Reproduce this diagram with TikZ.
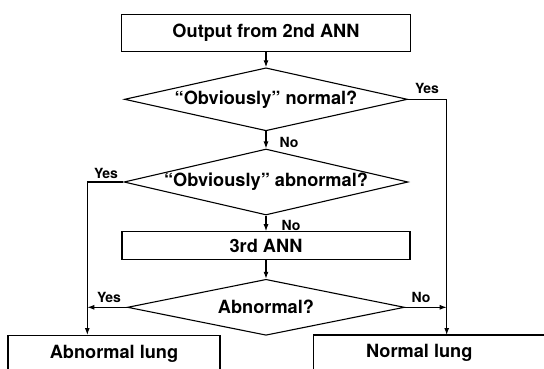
\documentclass[tikz,border=0pt]{standalone}
\usepackage{fontspec}
\setmainfont{TeX Gyre Heros}
\usetikzlibrary{positioning}
\usetikzlibrary{shapes.geometric}
\usetikzlibrary{arrows.meta}

\begin{document}
\begin{tikzpicture}[x=1pt, y=-1pt,
    box text/.style={
        rectangle, inner sep=0pt,
        font=\fontsize{18.2}{20}\selectfont\bfseries
    },
    box style/.style={box text, draw, line width=1.1pt},
    decision style/.style={
        diamond, draw, line width=1.1pt,
        inner sep=0pt, aspect=4.4,
        font=\fontsize{18.2}{20}\selectfont\bfseries
    },
    answer/.style={inner sep=0pt, font=\fontsize{14}{16}\selectfont\bfseries},
    edge/.style={line width=1.1pt, -{Latex[length=7pt,width=5pt]}},
    line/.style={line width=1.1pt}
]
    \useasboundingbox (0,0) rectangle (544,368);

    \node[box style, minimum width=289pt, minimum height=37pt] (out) at (266,32.8) {Output from 2nd ANN};
    \node[decision style, minimum width=283pt, minimum height=63pt] (dnorm) at (266,99.3) {“Obviously” normal?};
    \node[decision style, minimum width=284pt, minimum height=66pt] (dabn) at (266,182) {“Obviously” abnormal?};
    \node[box style, minimum width=288pt, minimum height=27.6pt] (ann3) at (266,245.5) {3rd ANN};
    \node[decision style, minimum width=277pt, minimum height=56pt] (dfinal) at (266,307.3) {Abnormal?};

    \node[box style, minimum width=212pt, minimum height=36pt, anchor=north] (abnlung) at (114,335) {Abnormal lung};
    \node[box text] (normlung) at (419.3,353) {Normal lung};
    \draw[line] (313.3,372) |- (560,335);

    \coordinate (ldrop) at (87.3,335);
    \coordinate (rdrop) at (446.7,335);

    \node[answer] (yes1) at (427,88) {Yes};
    \node[answer] (no1) at (289,142) {No};
    \node[answer] (yes2) at (106,173) {Yes};
    \node[answer] (no2) at (291,225) {No};
    \node[answer] (yes3) at (109,297) {Yes};
    \node[answer] (no3) at (421,297) {No};

    \draw[edge] (out) -- (dnorm);
    \draw[edge] (dnorm) -- (dabn);
    \draw[edge] (dabn) -- (ann3);
    \draw[edge] (ann3) -- (dfinal);
    \draw[edge] (dnorm.east) -| (rdrop);
    \draw[edge] (dabn.west) -| (ldrop);
    \draw[edge] (dfinal.west) -- (dfinal.west -| ldrop);
    \draw[edge] (dfinal.east) -- (dfinal.east -| rdrop);

\end{tikzpicture}
\end{document}
